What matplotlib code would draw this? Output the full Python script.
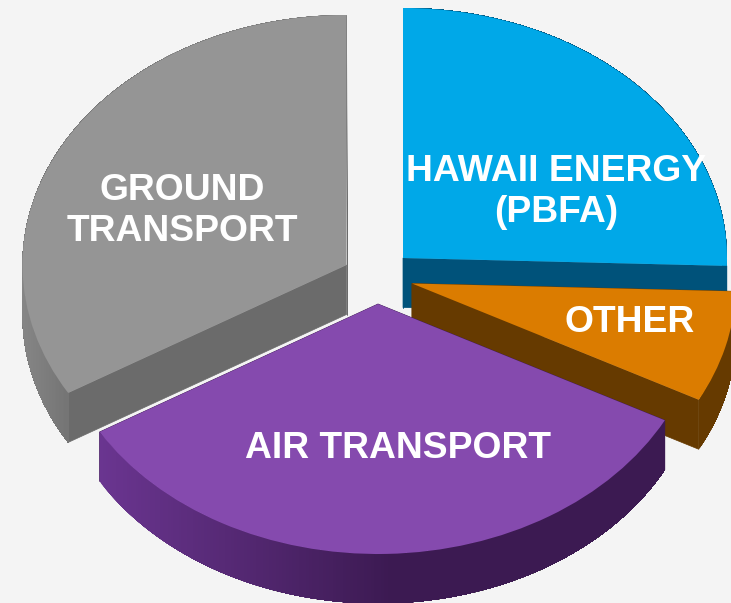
import numpy as np
import matplotlib
matplotlib.use("Agg")
import matplotlib.pyplot as plt
from matplotlib.patches import Wedge, Polygon
from matplotlib.transforms import Affine2D
from matplotlib.colors import to_rgb

plt.rcParams['font.family'] = ['Liberation Sans', 'DejaVu Sans']

# data (share of total, clockwise from 12 o'clock)
categories = ["HAWAII ENERGY\n(PBFA)", "OTHER", "AIR TRANSPORT", "GROUND\nTRANSPORT"]
values = [25.5, 7.2, 33.75, 33.55]

# style
top_colors = ["#00a8e8", "#db7c00", "#854aae", "#959595"]
face_colors = ["#00527a", "#663a00", "#3f1a55", "#6b6b6b"]
rim_start = ["#00527a", "#663a00", "#6a3590", "#868686"]
rim_end = ["#00527a", "#663a00", "#3c1a52", "#747474"]
rim_span = [(403, 727), (412, 731), (100, 390), (22, 68)]
apex = [(403, 258), (412, 283.5), (378, 304), (346.5, 265)]
label_pos = [(556, 192), (630, 322.5), (398, 449), (182, 211)]
RX, RY, DEPTH = 324, 250, 49.5
BG = "#f4f4f4"
draw_order = [0, 3, 1, 2]

fig = plt.figure(figsize=(7.31, 6.03), dpi=100, facecolor=BG)
ax = fig.add_axes([0, 0, 1, 1])
ax.set_xlim(0, 731)
ax.set_ylim(603, 0)
ax.axis("off")

edges = 90 - np.cumsum([0] + values) / sum(values) * 360


def mix(a, b, t):
    a, b = np.array(to_rgb(a)), np.array(to_rgb(b))
    return tuple(a + (b - a) * t)


for layer, i in enumerate(draw_order):
    z = layer * 3
    cx, cy = apex[i]
    a1, a0 = edges[i + 1], edges[i]
    th = np.radians(np.linspace(a1, a0, 200))
    x = cx + RX * np.cos(th)
    y = cy - RY * np.sin(th)

    # flat radial faces
    for k in (0, -1):
        ax.add_patch(Polygon([(cx, cy), (x[k], y[k]), (x[k], y[k] + DEPTH), (cx, cy + DEPTH)],
                             closed=True, fc=face_colors[i], ec=face_colors[i], lw=0.5,
                             zorder=z + 1))

    # rim: each strip runs on to the arc's end, so no seams show between strips
    span0, span1 = rim_span[i]
    for j in range(len(th) - 1):
        t = np.clip((x[j] - span0) / (span1 - span0), 0, 1)
        c = mix(rim_start[i], rim_end[i], t)
        pts = list(zip(x[j:], y[j:])) + list(zip(x[j:][::-1], y[j:][::-1] + DEPTH))
        ax.add_patch(Polygon(pts, closed=True, fc=c, ec="none", zorder=z + 2))

    # top surface
    tr = Affine2D().scale(RX, -RY).translate(cx, cy) + ax.transData
    ax.add_patch(Wedge((0, 0), 1, a1, a0, fc=top_colors[i], ec="none", transform=tr,
                       zorder=z + 3))

for name, (lx, ly) in zip(categories, label_pos):
    ax.text(lx, ly, name, color="white", fontsize=26.8, fontweight="bold", ha="center",
            va="center", linespacing=1.2, zorder=30)

fig.savefig("out.png", dpi=100, facecolor=BG)
